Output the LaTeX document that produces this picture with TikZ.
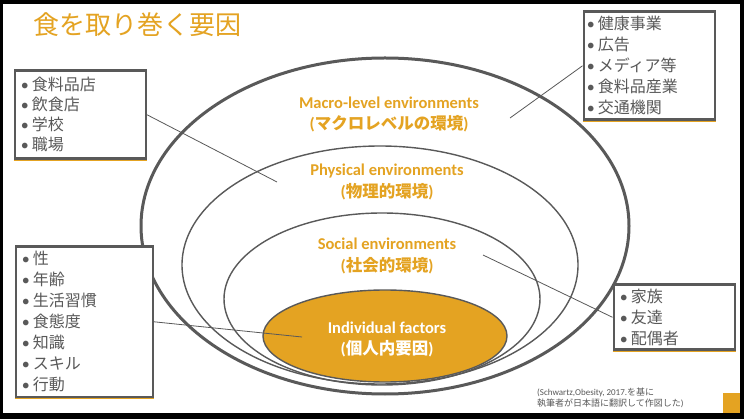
\documentclass[tikz,border=0pt]{standalone}
\usepackage{fontspec}
\setmainfont{Carlito}
\newfontfamily\jp{Noto Sans CJK JP}
\usepackage{xcolor}
\usetikzlibrary{shapes.geometric}
\definecolor{gold}{HTML}{E4A322}
\definecolor{ink}{HTML}{595959}
\newcommand{\itm}[1]{\makebox[11pt][l]{\rmfamily\textbullet}{\jp #1}}

\begin{document}
\begin{tikzpicture}[
  x=1pt,y=-1pt,
  ring/.style={draw=ink,ellipse,inner sep=0pt,line width=1.4pt},
  outerring/.style={ring,line width=3pt},
  lbl/.style={text=gold,align=center,inner sep=0pt,font=\fontsize{16.5}{21.5}\selectfont\bfseries},
  listbox/.style={draw=ink,line width=2.6pt,fill=white,inner xsep=6pt,inner ysep=0pt,anchor=north west,
    text=ink,align=left,font=\fontsize{16}{21}\selectfont},
  conn/.style={draw=ink,line width=0.8pt},
  goldline/.style={draw=gold,line width=0.7pt}
]
\useasboundingbox (0,0) rectangle (744,419);
\fill[black] (0,0) rectangle (744,419);
\fill[white] (3,4) rectangle (740,413);

% title
\node[anchor=west,inner sep=0pt,text=gold,font=\jp\fontsize{26}{30}\selectfont] (title) at (33,25) {食を取り巻く要因};

% nested rings
\node[outerring,minimum width=488pt,minimum height=336pt] (macro) at (385,226) {};
\node[ring,minimum width=396pt,minimum height=238pt] (physical) at (380,265) {};
\node[ring,minimum width=316pt,minimum height=172pt] (social) at (382,299) {};
\node[ring,fill=gold,minimum width=244pt,minimum height=92pt] (indiv) at (385,336) {};

\node[lbl] (macrolbl) at (389,114.5) {Macro-level environments\\({\jp マクロレベルの環境})};
\node[lbl] (physlbl) at (387,182) {Physical environments\\({\jp 物理的環境})};
\node[lbl] (soclbl) at (387,256) {Social environments\\({\jp 社会的環境})};
\node[lbl,text=white] (indivlbl) at (387,339.5) {Individual factors\\({\jp 個人内要因})};

% lists
\node[listbox,text width=119pt,minimum height=88pt,font=\fontsize{16}{20}\selectfont] (shops) at (13.5,69.5)
  {\itm{食料品店}\\\itm{飲食店}\\\itm{学校}\\\itm{職場}};
\node[listbox,minimum height=108pt,inner xsep=3pt,text width=125pt] (media) at (582.5,10.5)
  {\itm{健康事業}\\\itm{広告}\\\itm{メディア等}\\\itm{食料品産業}\\\itm{交通機関}};
\node[listbox,text width=125pt,minimum height=150pt] (person) at (14.5,245.5)
  {\itm{性}\\\itm{年齢}\\\itm{生活習慣}\\\itm{食態度}\\\itm{知識}\\\itm{スキル}\\\itm{行動}};
\node[listbox,text width=109pt,minimum height=65pt] (family) at (612.5,283.5)
  {\itm{家族}\\\itm{友達}\\\itm{配偶者}};
\foreach \b in {shops,media,person,family}
  \draw[goldline] (\b.south west) -- (\b.south east);

% connectors
\coordinate (physpt) at (277,182);
\coordinate (macropt) at (510,118);
\coordinate (socpt) at (483,255);
\coordinate (indivpt) at (302,337);
\draw[conn] (shops.east) -- (physpt);
\draw[conn] (media.west) -- (macropt);
\draw[conn] (socpt) -- (family.west);
\draw[conn] (person.east) -- (indivpt);

% source note
\node[anchor=west,align=left,inner sep=0pt,text=ink,font=\fontsize{9}{10.5}\selectfont] (note) at (537,398)
  {(Schwartz,Obesity, 2017.{\jp を基に}\\{\jp 執筆者が日本語に翻訳して作図した})};
\fill[gold] (723,393) rectangle (740,413);
\end{tikzpicture}
\end{document}
